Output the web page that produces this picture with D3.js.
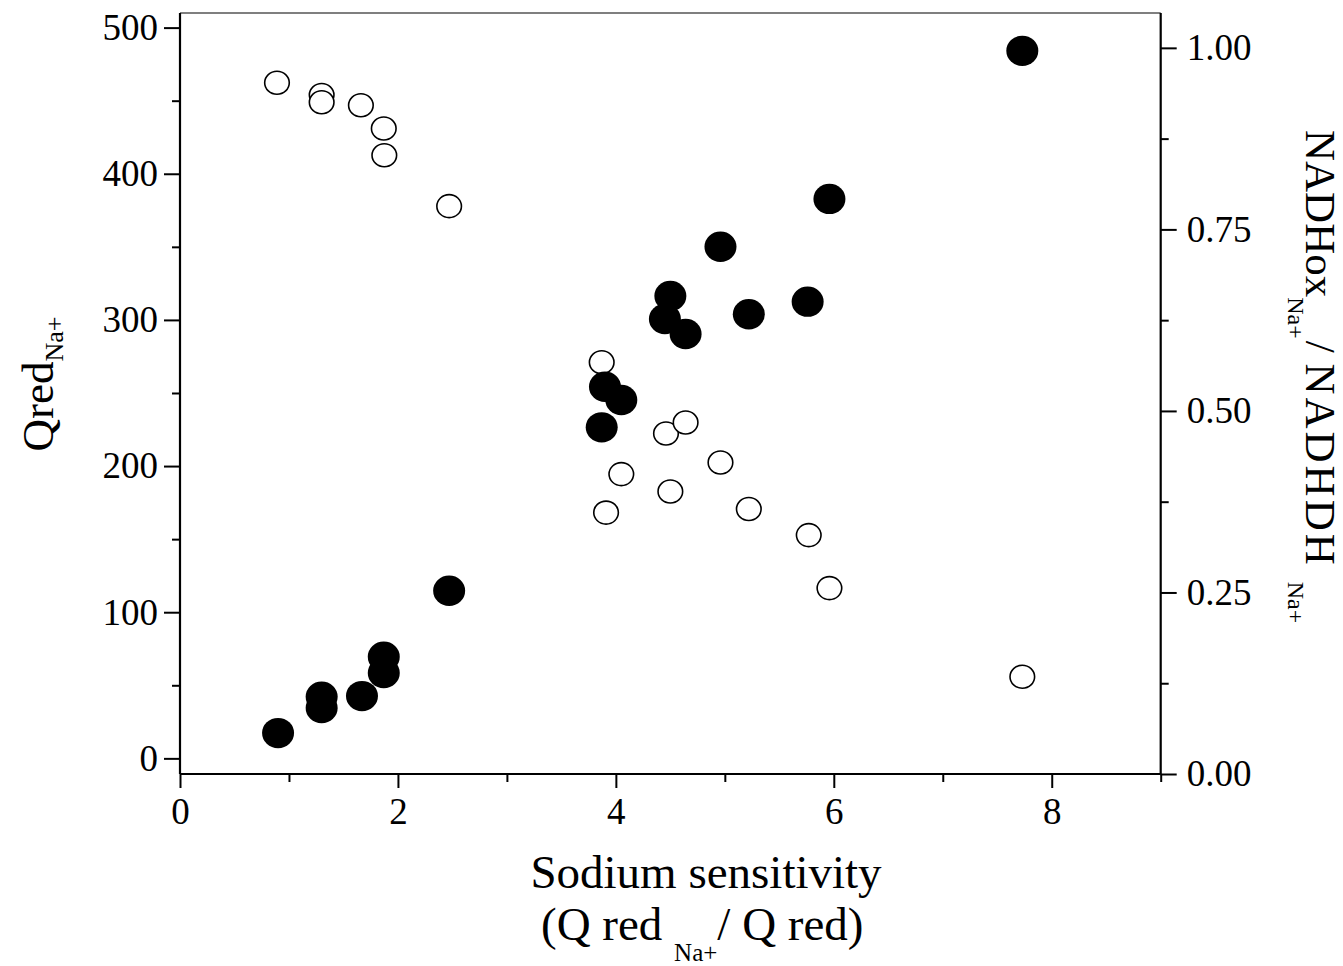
<!DOCTYPE html>
<html><head><meta charset="utf-8">
<script src="https://cdn.jsdelivr.net/npm/d3@7/dist/d3.min.js"></script>
<style>body{margin:0;background:#fff}svg{display:block}</style>
</head><body>
<svg id="c" width="1343" height="966"></svg>
<script>
// Filled circles: Qred_Na+ (left axis)
const filledX = [0.90, 1.30, 1.30, 1.67, 1.87, 1.87, 2.47, 3.87, 3.90, 4.05, 4.45, 4.50, 4.64, 4.96, 5.22, 5.76, 5.96, 7.73];
const filledY = [17.3, 42.2, 34.4, 42.6, 69.5, 58.4, 114.7, 226.5, 254.3, 245.2, 300.6, 316.4, 290.4, 350.1, 303.9, 312.5, 382.8, 484.1];
// Open circles: NADHox_Na+ / NADHDH_Na+ (right axis)
const openX = [0.89, 1.30, 1.30, 1.66, 1.87, 1.875, 2.47, 3.87, 4.46, 4.64, 4.05, 4.96, 4.50, 3.91, 5.22, 5.77, 5.96, 7.73];
const openY = [0.952, 0.935, 0.925, 0.921, 0.889, 0.852, 0.782, 0.567, 0.469, 0.484, 0.413, 0.429, 0.389, 0.360, 0.365, 0.329, 0.256, 0.134];

const xMajor = [0, 2, 4, 6, 8];
const xMinor = [1, 3, 5, 7, 9];
const yLeftMajor = [0, 100, 200, 300, 400, 500];
const yLeftMinor = [50, 150, 250, 350, 450];
const yRightMajor = [0, 0.25, 0.5, 0.75, 1.0];
const yRightMinor = [0.125, 0.375, 0.625, 0.875];

const L = 180, R = 1160.7, T = 13, B = 774;
const svg = d3.select("#c");
const font = "'Liberation Serif','Times New Roman',serif";

const x = d3.scaleLinear().domain([0, 9]).range([L, R]);
const yL = d3.scaleLinear().domain([-10.7, 510]).range([B, T]);
const yR = d3.scaleLinear().domain([0, 1.048]).range([B, T]);

function styleAxis(g) {
  g.select(".domain").remove();
  g.selectAll(".tick line").attr("stroke", "#000").attr("stroke-width", 2);
  g.selectAll(".tick text").attr("font-family", font).attr("font-size", 37).attr("fill", "#000");
}

// bottom axis
svg.append("g").attr("transform", `translate(0,${B})`)
  .call(d3.axisBottom(x).tickValues(xMajor).tickSize(14).tickPadding(10).tickFormat(d3.format("d")))
  .call(styleAxis);
svg.append("g").attr("transform", `translate(0,${B})`)
  .call(d3.axisBottom(x).tickValues(xMinor).tickSize(8).tickFormat(""))
  .call(styleAxis);

// left axis
svg.append("g").attr("transform", `translate(${L},0)`)
  .call(d3.axisLeft(yL).tickValues(yLeftMajor).tickSize(16).tickPadding(6).tickFormat(d3.format("d")))
  .call(styleAxis);
svg.append("g").attr("transform", `translate(${L},0)`)
  .call(d3.axisLeft(yL).tickValues(yLeftMinor).tickSize(8).tickFormat(""))
  .call(styleAxis);

// right axis
svg.append("g").attr("transform", `translate(${R},0)`)
  .call(d3.axisRight(yR).tickValues(yRightMajor).tickSize(16).tickPadding(10).tickFormat(d3.format(".2f")))
  .call(styleAxis);
svg.append("g").attr("transform", `translate(${R},0)`)
  .call(d3.axisRight(yR).tickValues(yRightMinor).tickSize(8).tickFormat(""))
  .call(styleAxis);

// frame lines
svg.append("line").attr("x1", L).attr("x2", R).attr("y1", T).attr("y2", T).attr("stroke", "#000").attr("stroke-width", 1.2);
svg.append("line").attr("x1", L).attr("x2", R).attr("y1", B).attr("y2", B).attr("stroke", "#000").attr("stroke-width", 2.2);
svg.append("line").attr("x1", L).attr("x2", L).attr("y1", T).attr("y2", B).attr("stroke", "#000").attr("stroke-width", 2.2);
svg.append("line").attr("x1", R).attr("x2", R).attr("y1", T).attr("y2", B).attr("stroke", "#000").attr("stroke-width", 2.2);

// open circles
svg.append("g").selectAll("ellipse").data(openX.map((v, i) => [v, openY[i]])).join("ellipse")
  .attr("cx", d => x(d[0])).attr("cy", d => yR(d[1]))
  .attr("rx", 12.3).attr("ry", 11.5)
  .attr("fill", "#fff").attr("stroke", "#000").attr("stroke-width", 1.6);

// filled circles
svg.append("g").selectAll("ellipse").data(filledX.map((v, i) => [v, filledY[i]])).join("ellipse")
  .attr("cx", d => x(d[0])).attr("cy", d => yL(d[1]))
  .attr("rx", 16).attr("ry", 15.2)
  .attr("fill", "#000");

// x title
const xt = svg.append("text").attr("font-family", font).attr("font-size", 47).attr("fill", "#000").attr("text-anchor", "middle");
xt.append("tspan").attr("x", 706).attr("y", 888).text("Sodium sensitivity");
const xt2 = svg.append("text").attr("font-family", font).attr("font-size", 47).attr("fill", "#000").attr("x", 541).attr("y", 940);
xt2.append("tspan").text("(Q red ");
xt2.append("tspan").attr("font-size", 25).attr("dy", 21).text("Na+");
xt2.append("tspan").attr("dy", -21).text("/ Q red)");

// left title
const lt = svg.append("text").attr("font-family", font).attr("font-size", 45).attr("fill", "#000")
  .attr("text-anchor", "middle").attr("transform", "translate(53,384) rotate(-90)");
lt.append("tspan").text("Qred");
lt.append("tspan").attr("font-size", 26).attr("dy", 10).text("Na+");

// right title
const rt = svg.append("text").attr("font-family", font).attr("font-size", 43).attr("fill", "#000")
  .attr("transform", "translate(1306,130) rotate(90)");
rt.append("tspan").text("NADHox");
rt.append("tspan").attr("font-size", 24).attr("dy", 18).text("Na+");
rt.append("tspan").attr("dy", -18).attr("dx", 2).text("/ ");
rt.append("tspan").attr("letter-spacing", 3).text("NADHDH");
rt.append("tspan").attr("font-size", 24).attr("dy", 18).attr("dx", 14).text("Na+");
</script>
</body></html>
